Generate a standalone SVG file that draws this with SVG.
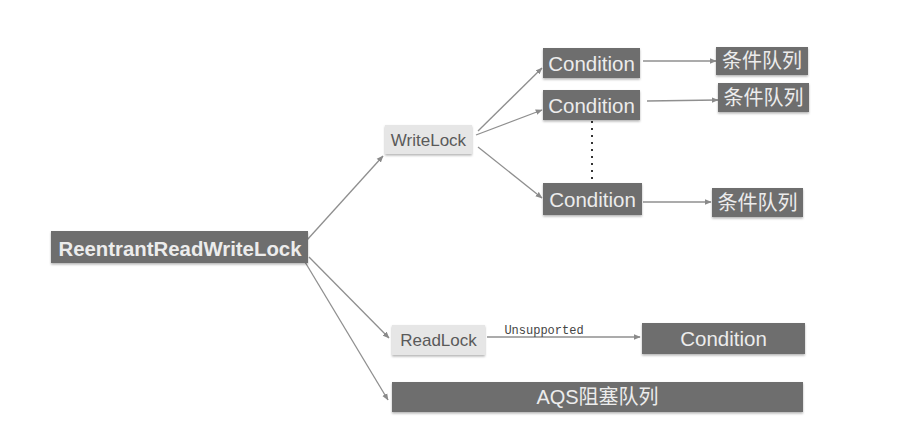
<svg xmlns="http://www.w3.org/2000/svg" width="917" height="432" viewBox="0 0 917 432">
<defs>
<marker id="ah" viewBox="0 0 10 10" refX="9" refY="5" markerWidth="7" markerHeight="7" orient="auto-start-reverse" markerUnits="userSpaceOnUse">
<path d="M0,1 L10,5 L0,9 z" fill="#8a8a8a"/>
</marker>
<filter id="sh" x="-5%" y="-10%" width="110%" height="130%">
<feDropShadow dx="0" dy="1.5" stdDeviation="0.8" flood-color="#000" flood-opacity="0.3"/>
</filter>
</defs>
<style>
.dark{fill:#6e6e6e;filter:url(#sh)}
.light{fill:#e6e6e6;filter:url(#sh)}
.wt{fill:#ececec;font-family:"Liberation Sans","Noto Sans CJK SC",sans-serif;font-size:20.5px;text-anchor:middle;dominant-baseline:central}
.cj{fill:#ececec;font-family:"Liberation Sans","Noto Sans CJK SC",sans-serif;font-size:20px;text-anchor:middle;dominant-baseline:central}
.gt{fill:#5a5a5a;font-family:"Liberation Sans",sans-serif;font-size:17px;text-anchor:middle;dominant-baseline:central}
.ln{stroke:#8f8f8f;stroke-width:1.3;fill:none;marker-end:url(#ah)}
</style>
<rect width="917" height="432" fill="#ffffff"/>
<g id="connectors">
<line class="ln" x1="307" y1="240" x2="383" y2="156"/>
<line class="ln" x1="309" y1="257" x2="389" y2="338"/>
<line class="ln" x1="305" y1="262" x2="388" y2="400"/>
<line class="ln" x1="478" y1="131" x2="542" y2="68"/>
<line class="ln" x1="476" y1="135" x2="542" y2="110"/>
<line class="ln" x1="478" y1="147" x2="542" y2="198"/>
<line class="ln" x1="643" y1="61" x2="716" y2="61"/>
<line class="ln" x1="647" y1="101" x2="718" y2="100"/>
<line class="ln" x1="643" y1="202" x2="711" y2="202"/>
<line class="ln" x1="487" y1="337" x2="640" y2="337"/>
<line x1="592" y1="121" x2="592" y2="182" stroke="#333" stroke-width="2" stroke-dasharray="2,5"/>
<text x="544" y="334" fill="#444" font-family="Liberation Mono,monospace" font-size="12" text-anchor="middle">Unsupported</text>
</g>
<g id="rrwl">
<rect class="dark" x="51" y="231" width="257" height="32"/>
<text class="wt" x="180" y="248" font-weight="bold" font-size="20" textLength="243" lengthAdjust="spacingAndGlyphs">ReentrantReadWriteLock</text>
</g>
<g id="writelock">
<rect class="light" x="385" y="125" width="87" height="29"/>
<text class="gt" x="428.5" y="140">WriteLock</text>
</g>
<g id="readlock">
<rect class="light" x="392" y="325" width="93" height="30"/>
<text class="gt" x="438.5" y="340">ReadLock</text>
</g>
<g id="cond1">
<rect class="dark" x="543" y="48" width="97" height="30"/>
<text class="wt" x="591.5" y="63">Condition</text>
</g>
<g id="cond2">
<rect class="dark" x="543" y="90" width="97" height="30"/>
<text class="wt" x="591.5" y="105">Condition</text>
</g>
<g id="cond3">
<rect class="dark" x="543" y="183" width="99" height="32"/>
<text class="wt" x="592.5" y="199">Condition</text>
</g>
<g id="queue1">
<rect class="dark" x="716" y="47" width="92" height="28"/>
<text class="cj" x="762" y="61">条件队列</text>
</g>
<g id="queue2">
<rect class="dark" x="718" y="83" width="91" height="29"/>
<text class="cj" x="763.5" y="97.5">条件队列</text>
</g>
<g id="queue3">
<rect class="dark" x="712" y="188" width="91" height="29"/>
<text class="cj" x="757.5" y="202.5">条件队列</text>
</g>
<g id="cond4">
<rect class="dark" x="642" y="323" width="163" height="31"/>
<text class="wt" x="723.5" y="338.5">Condition</text>
</g>
<g id="aqs">
<rect class="dark" x="392" y="382" width="411" height="30"/>
<text class="cj" x="597.5" y="397">AQS阻塞队列</text>
</g>
</svg>
